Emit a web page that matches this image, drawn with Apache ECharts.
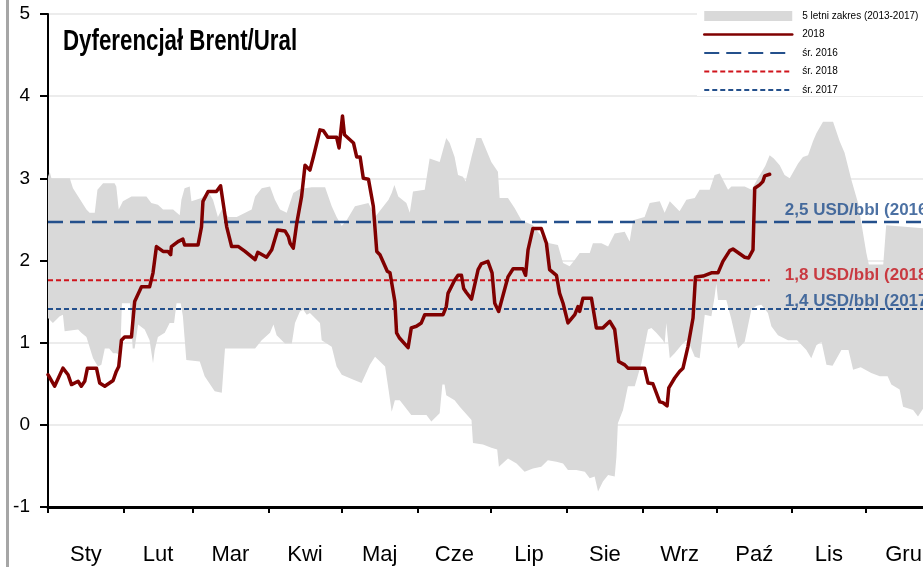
<!DOCTYPE html>
<html>
<head>
<meta charset="utf-8">
<script src="https://cdn.jsdelivr.net/npm/echarts@6/dist/echarts.min.js"></script>
<style>
  html, body { margin: 0; padding: 0; background: #fff; }
  #chart { width: 923px; height: 567px; }
</style>
</head>
<body>
<div id="chart"></div>
<script>
// Calendar: month names and the day-of-year on which each month starts
const monthNames = ['Sty', 'Lut', 'Mar', 'Kwi', 'Maj', 'Cze', 'Lip', 'Sie', 'Wrz', 'Paź', 'Lis', 'Gru'];
const monthStarts = [0, 31, 59, 90, 120, 151, 181, 212, 243, 273, 304, 334, 365];

// Brent/Ural differential in 2018 (USD/bbl), by day of year
const days2018 = [0, 2.7, 6.1, 8.2, 9.6, 12.3, 13.6, 15.0, 16.1, 19.8, 21.1, 23.2, 26.6, 27.9, 28.9, 30.0, 31.3, 34.1, 35.4, 38.2,
  41.5, 42.9, 44.3, 47.0, 49.0, 50.1, 50.4, 53.1, 55.1, 55.8, 61.3, 62.7, 63.3, 65.4, 68.8, 70.5, 73.0, 75.0, 77.8, 80.5,
  84.6, 85.7, 89.3, 91.4, 93.8, 96.8, 98.2, 98.9, 100.2, 101.6, 103.6, 104.3, 105.0, 107.0, 108.4, 111.1, 112.5, 114.3, 117.9, 118.9,
  120.3, 121.1, 124.8, 126.1, 127.5, 128.8, 130.9, 132.9, 134.3, 135.6, 138.6, 139.7, 141.7, 142.4, 143.5, 147.1, 148.4, 150.5, 152.5, 153.9,
  161.4, 162.7, 163.4, 166.1, 167.5, 168.9, 169.8, 170.9, 173.0, 175.7, 177.0, 179.7, 181.4, 182.5, 184.1, 187.9, 190.0, 194.0, 195.1, 196.1,
  198.1, 201.5, 203.6, 204.9, 207.7, 209.0, 210.4, 212.4, 215.2, 216.5, 217.2, 218.5, 222.0, 224.0, 226.7, 229.5, 231.5, 233.1, 235.6, 236.9,
  243.7, 245.1, 247.1, 249.9, 251.2, 252.9, 253.6, 256.0, 258.0, 259.4, 261.4, 263.5, 264.5, 267.6, 271.0, 273.7, 275.7, 278.5, 279.8, 284.6,
  286.2, 288.0, 288.7, 290.7, 292.0, 292.8, 294.8];
const values2018 = [0.61, 0.47, 0.69, 0.61, 0.49, 0.53, 0.47, 0.53, 0.69, 0.69, 0.51, 0.47, 0.54, 0.65, 0.71, 1.03, 1.07, 1.07, 1.50, 1.68,
  1.68, 1.85, 2.17, 2.11, 2.11, 2.07, 2.17, 2.23, 2.26, 2.19, 2.19, 2.41, 2.72, 2.84, 2.84, 2.91, 2.41, 2.17, 2.17, 2.11,
  2.01, 2.10, 2.04, 2.13, 2.37, 2.36, 2.29, 2.21, 2.15, 2.45, 2.78, 2.80, 3.16, 3.10, 3.26, 3.59, 3.58, 3.50, 3.50, 3.37,
  3.76, 3.53, 3.43, 3.26, 3.26, 3.00, 2.99, 2.66, 2.11, 2.07, 1.87, 1.85, 1.50, 1.12, 1.06, 0.94, 1.18, 1.20, 1.24, 1.34,
  1.34, 1.44, 1.60, 1.76, 1.82, 1.82, 1.66, 1.61, 1.53, 1.89, 1.96, 1.99, 1.85, 1.48, 1.38, 1.80, 1.90, 1.90, 1.82, 2.13,
  2.39, 2.39, 2.21, 1.89, 1.82, 1.60, 1.48, 1.24, 1.34, 1.44, 1.38, 1.54, 1.54, 1.18, 1.18, 1.26, 1.16, 0.77, 0.73, 0.69,
  0.69, 0.51, 0.50, 0.28, 0.27, 0.23, 0.45, 0.57, 0.65, 0.69, 0.95, 1.30, 1.80, 1.81, 1.85, 1.85, 1.99, 2.12, 2.14, 2.04,
  2.03, 2.13, 2.88, 2.92, 2.96, 3.03, 3.05];

// 5-year range 2013-2017: upper edge
const upperDays = [0, 0.7, 1.4, 8.9, 10.2, 15.7, 17.0, 19.1, 20.2, 22.5, 27.2, 27.9, 28.9, 30.6, 34.1, 40.2, 42.2, 44.9, 47.0, 51.1,
  53.8, 54.5, 55.8, 57.9, 58.6, 62.7, 65.4, 67.4, 69.4, 71.0, 73.7, 77.1, 83.2, 84.6, 87.3, 90.7, 92.7, 94.8, 97.5, 100.2,
  102.9, 107.7, 113.2, 115.9, 117.9, 120.0, 122.0, 125.4, 130.9, 133.6, 139.1, 140.4, 141.5, 143.1, 146.4, 147.8, 149.1, 153.9, 155.9, 160.0,
  162.7, 164.1, 166.1, 167.5, 169.5, 170.6, 173.0, 175.0, 177.0, 181.1, 183.8, 184.5, 187.9, 190.6, 193.4, 198.1, 202.2, 204.9, 208.3, 210.4,
  213.1, 215.2, 217.2, 221.3, 222.6, 226.1, 228.8, 231.5, 235.6, 237.6, 239.0, 243.7, 245.8, 249.9, 251.9, 254.0, 256.0, 258.0, 260.8, 264.2,
  266.2, 270.3, 272.3, 274.4, 277.8, 279.2, 284.6, 287.4, 290.0, 293.0, 294.8, 296.5, 298.9, 300.9, 303.0, 306.4, 308.4, 310.5, 312.5, 313.9,
  316.6, 320.7, 323.4, 325.4, 328.2, 330.9, 334.3, 335.3, 341.2, 342.4, 350.0, 358.0];
const upperValues = [3.02, 3.08, 3.00, 3.00, 2.88, 2.62, 2.58, 2.58, 2.86, 2.94, 2.94, 2.90, 2.62, 2.72, 2.78, 2.78, 2.70, 2.68, 2.62, 2.62,
  2.55, 2.74, 2.88, 2.90, 2.72, 2.76, 2.84, 2.74, 2.53, 2.62, 2.53, 2.53, 2.62, 2.78, 2.88, 2.90, 2.74, 2.62, 2.58, 2.82,
  2.87, 2.89, 2.89, 2.66, 2.53, 2.42, 2.49, 2.66, 2.70, 2.53, 2.74, 2.82, 2.92, 2.78, 2.70, 2.58, 2.84, 2.86, 3.24, 3.20,
  3.49, 3.43, 3.26, 3.04, 3.02, 2.96, 3.26, 3.49, 3.49, 3.20, 3.08, 2.76, 2.76, 2.64, 2.49, 2.43, 2.27, 2.21, 2.19, 1.97,
  1.93, 2.01, 2.09, 2.09, 2.21, 2.21, 2.17, 2.33, 2.35, 2.23, 2.49, 2.53, 2.70, 2.72, 2.58, 2.72, 2.66, 2.60, 2.74, 2.76,
  2.86, 2.86, 3.04, 3.06, 2.86, 2.90, 2.90, 2.86, 3.00, 3.15, 3.28, 3.24, 3.16, 3.04, 3.00, 3.18, 3.26, 3.28, 3.45, 3.55,
  3.69, 3.69, 3.45, 3.31, 2.98, 2.70, 2.09, 1.95, 1.95, 2.43, 2.41, 2.39];

// 5-year range 2013-2017: lower edge
const lowerDays = [0, 2.0, 4.8, 6.1, 6.8, 12.3, 13.6, 15.7, 18.4, 20.4, 21.8, 23.2, 25.0, 26.6, 27.9, 29.5, 30.2, 33.5, 34.6, 35.4,
  36.8, 39.5, 41.5, 42.9, 43.6, 44.9, 47.7, 49.7, 51.5, 52.5, 54.2, 55.1, 56.5, 62.0, 64.0, 68.1, 71.0, 72.3, 84.6, 87.3,
  90.7, 92.1, 93.4, 96.8, 99.6, 100.9, 102.9, 104.3, 105.7, 107.0, 111.1, 111.8, 115.9, 117.9, 120.0, 124.8, 128.1, 131.5, 133.6, 137.7,
  139.1, 140.4, 141.7, 143.7, 148.4, 154.6, 156.6, 160.0, 161.1, 162.0, 162.7, 166.1, 168.2, 173.0, 173.6, 177.7, 181.1, 183.5, 184.2, 187.9,
  191.4, 194.7, 198.1, 201.5, 204.2, 207.7, 210.4, 212.4, 215.8, 219.3, 221.3, 223.3, 224.7, 226.7, 228.8, 231.5, 232.2, 232.8, 234.9, 236.9,
  239.7, 242.4, 243.7, 245.1, 246.5, 248.5, 251.2, 251.9, 252.6, 254.0, 256.0, 258.7, 260.8, 262.5, 264.2, 266.2, 268.3, 271.0, 272.3, 273.0,
  273.7, 277.1, 279.2, 281.9, 284.6, 287.3, 289.5, 291.4, 294.1, 295.5, 298.2, 302.3, 306.0, 309.8, 311.8, 313.9, 316.0, 318.0, 320.5, 324.1,
  327.0, 328.9, 332.0, 336.3, 339.8, 343.0, 344.5, 347.9, 349.3, 353.4, 355.4, 358.0];
const lowerValues = [1.30, 1.24, 1.32, 1.34, 1.14, 1.16, 1.12, 1.07, 0.81, 0.71, 0.73, 0.93, 0.93, 0.87, 0.87, 0.85, 1.48, 1.48, 0.93, 0.93,
  1.22, 1.16, 1.03, 0.75, 0.91, 1.07, 1.12, 1.24, 1.24, 1.48, 1.48, 1.32, 0.79, 0.77, 0.59, 0.41, 0.39, 0.93, 0.93, 1.03,
  1.12, 1.22, 1.09, 0.99, 0.99, 1.24, 1.38, 1.40, 1.34, 1.36, 1.24, 1.03, 0.95, 0.71, 0.61, 0.55, 0.51, 0.73, 0.83, 0.71,
  0.43, 0.16, 0.30, 0.30, 0.12, 0.12, 0.04, 0.14, 0.49, 0.49, 0.36, 0.30, 0.22, 0.06, -0.22, -0.24, -0.28, -0.30, -0.51, -0.41,
  -0.47, -0.57, -0.53, -0.51, -0.43, -0.45, -0.47, -0.55, -0.55, -0.57, -0.65, -0.63, -0.81, -0.69, -0.61, -0.63, -0.39, 0.02, 0.18, 0.47,
  0.47, 0.75, 0.95, 1.16, 1.18, 1.12, 1.03, 0.99, 1.24, 0.81, 0.87, 0.97, 1.03, 0.95, 0.83, 0.81, 1.34, 1.32, 1.56, 1.72,
  1.52, 1.52, 1.28, 0.93, 1.01, 1.40, 1.45, 1.46, 1.36, 1.20, 1.09, 1.03, 1.03, 0.91, 0.81, 0.97, 1.01, 0.73, 0.72, 0.91,
  0.91, 0.67, 0.70, 0.63, 0.59, 0.59, 0.49, 0.43, 0.22, 0.18, 0.10, 0.22];

// Yearly averages (USD/bbl)
const avgNames = ['śr. 2016', 'śr. 2018', 'śr. 2017'];
const avgYears = ['2016', '2018', '2017'];
const avgValues = [2.47, 1.76, 1.41];

const NAVY = '#24508c';
const RED = '#d0141c';
const DARK_RED = '#800000';
const BAND = '#d9d9d9';
const FONT = '"Liberation Sans", Arial, sans-serif';

const monthMids = monthStarts.slice(0, 12).map((s, i) => (s + monthStarts[i + 1]) / 2);
const line2018 = days2018.map((d, i) => [d, values2018[i]]);
const lastDay2018 = days2018[days2018.length - 1];
const labelDay = 301;

const avgStyles = [
  { color: NAVY, type: [15, 7], width: 2.5, end: 365, labelColor: '#1f4e8c', dy: -12 },
  { color: RED, type: [5, 3], width: 2, end: lastDay2018, labelColor: '#c4121a', dy: -5 },
  { color: NAVY, type: [5, 3], width: 2, end: 365, labelColor: '#1f4e8c', dy: -8 }
];

const chart = echarts.init(document.getElementById('chart'), null, { renderer: 'canvas' });

const series = [
  {
    name: '5 letni zakres (2013-2017)',
    type: 'custom',
    silent: true,
    z: 1,
    itemStyle: { color: BAND },
    data: [[0, 0]],
    renderItem: function (params, api) {
      const pts = [];
      for (let i = 0; i < upperDays.length; i++) pts.push(api.coord([upperDays[i], upperValues[i]]));
      for (let i = lowerDays.length - 1; i >= 0; i--) pts.push(api.coord([lowerDays[i], lowerValues[i]]));
      return { type: 'polygon', shape: { points: pts }, style: { fill: BAND } };
    }
  },
  {
    name: '2018',
    type: 'line',
    symbol: 'none',
    z: 4,
    lineStyle: { color: DARK_RED, width: 3.5, join: 'round', cap: 'round' },
    itemStyle: { color: DARK_RED },
    data: line2018
  }
];

avgValues.forEach((v, i) => {
  const st = avgStyles[i];
  series.push({
    name: avgNames[i],
    type: 'line',
    symbol: 'none',
    z: 3,
    lineStyle: { color: st.color, type: st.type, width: st.width },
    itemStyle: { color: st.color },
    data: [[0, v], [st.end, v]]
  });
});

series.push({
  name: 'etykiety',
  type: 'scatter',
  symbolSize: 0,
  silent: true,
  z: 5,
  data: avgValues.map((v, i) => ({
    value: [labelDay, v],
    label: {
      show: true,
      position: 'right',
      distance: 0,
      offset: [0, avgStyles[i].dy],
      color: avgStyles[i].labelColor,
      fontFamily: FONT,
      fontWeight: 'bold',
      fontSize: 17,
      formatter: v.toFixed(1).replace('.', ',') + ' USD/bbl (' + avgYears[i] + ')'
    }
  }))
});

const hiddenSymbol = { opacity: 0 };

chart.setOption({
  animation: false,
  backgroundColor: '#fff',
  textStyle: { fontFamily: FONT },
  legend: {
    orient: 'vertical',
    left: 697,
    top: 4,
    padding: [6, 40, 0, 6],
    backgroundColor: '#fff',
    itemWidth: 88,
    itemHeight: 10,
    itemGap: 6.5,
    selectedMode: false,
    textStyle: { fontFamily: FONT, fontSize: 10, color: '#000', lineHeight: 12, padding: [0, 0, 0, 5] },
    data: [
      { name: '5 letni zakres (2013-2017)', icon: 'rect', itemStyle: { color: BAND } },
      { name: '2018', lineStyle: { width: 2.5 }, itemStyle: hiddenSymbol },
      { name: 'śr. 2016', lineStyle: { width: 2 }, itemStyle: hiddenSymbol },
      { name: 'śr. 2018', lineStyle: { width: 2 }, itemStyle: hiddenSymbol },
      { name: 'śr. 2017', lineStyle: { width: 2 }, itemStyle: hiddenSymbol }
    ]
  },
  grid: { left: 48, width: 893.5, top: 14, bottom: 60, containLabel: false, outerBoundsMode: 'none' },
  xAxis: {
    type: 'value',
    min: 0,
    max: 365,
    splitLine: { show: false },
    axisLine: { show: true, onZero: false, lineStyle: { color: '#000', width: 3 } },
    axisTick: { show: true, customValues: monthStarts, length: 6, lineStyle: { color: '#000', width: 2 } },
    axisLabel: {
      customValues: monthMids,
      margin: 37,
      fontSize: 22,
      fontFamily: FONT,
      color: '#000',
      formatter: function (v) {
        const i = monthMids.findIndex(m => Math.abs(m - v) < 0.01);
        return i >= 0 ? monthNames[i] : '';
      }
    }
  },
  yAxis: {
    type: 'value',
    min: -1,
    max: 5,
    interval: 1,
    axisLine: { show: true, lineStyle: { color: '#000', width: 2 } },
    axisTick: { show: true, length: 8, lineStyle: { color: '#000', width: 2 } },
    axisLabel: { margin: 18, fontSize: 19, fontFamily: FONT, color: '#000' },
    splitLine: { show: true, lineStyle: { color: '#ececec', width: 2 } }
  },
  graphic: [
    { type: 'rect', left: 6, top: 0, shape: { width: 3, height: 567 }, style: { fill: '#a6a6a6' }, silent: true },
    {
      type: 'text', x: 63, y: 42, scaleX: 0.743, silent: true, z: 10,
      style: { text: 'Dyferencjał Brent/Ural', x: 0, y: 0, font: 'bold 30px "Liberation Sans", Arial, sans-serif', fill: '#000', verticalAlign: 'middle' }
    }
  ],
  series: series
});
</script>
</body>
</html>
